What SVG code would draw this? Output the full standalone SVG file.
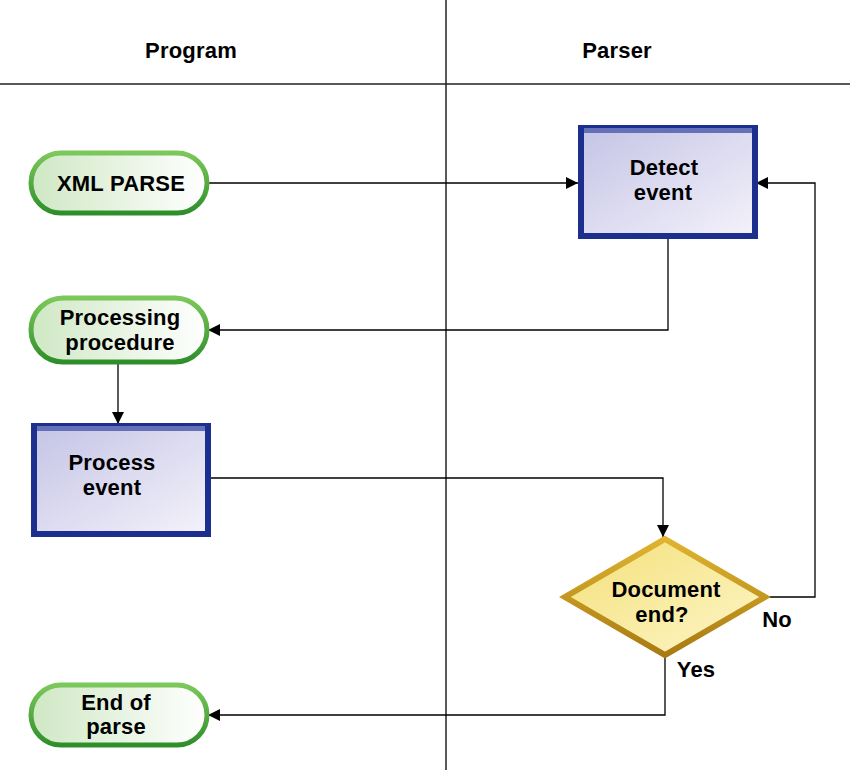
<svg xmlns="http://www.w3.org/2000/svg" width="850" height="770" viewBox="0 0 850 770">
<defs>
<linearGradient id="gPill" x1="0" y1="0" x2="1" y2="0">
<stop offset="0" stop-color="#cfe8c4"/>
<stop offset="1" stop-color="#ffffff"/>
</linearGradient>
<linearGradient id="gPillStroke" x1="0" y1="0" x2="0" y2="1">
<stop offset="0" stop-color="#7cc85a"/>
<stop offset="1" stop-color="#2e8f2a"/>
</linearGradient>
<linearGradient id="gRect" x1="0" y1="0" x2="1" y2="1">
<stop offset="0" stop-color="#c4c4e6"/>
<stop offset="1" stop-color="#f4f2fa"/>
</linearGradient>
<linearGradient id="gDia" x1="0" y1="0" x2="1" y2="1">
<stop offset="0" stop-color="#f4e07a"/>
<stop offset="1" stop-color="#fdf6c8"/>
</linearGradient>
<linearGradient id="gDiaStroke" x1="0" y1="0" x2="0" y2="1">
<stop offset="0" stop-color="#e0b430"/>
<stop offset="1" stop-color="#a87a12"/>
</linearGradient>
<marker id="arr" viewBox="0 0 10 10" refX="10" refY="5" markerWidth="12" markerHeight="12" markerUnits="userSpaceOnUse" orient="auto">
<path d="M0,0 L10,5 L0,10 z" fill="#000"/>
</marker>
</defs>
<style>
.t{font-family:"Liberation Sans",Arial,sans-serif;font-weight:bold;font-size:22px;fill:#000;text-anchor:middle;letter-spacing:0.2px}
.pill{fill:url(#gPill);stroke:url(#gPillStroke);stroke-width:5}
.box{fill:url(#gRect);stroke:#1c2f8e;stroke-width:6}
.bev{fill:none;stroke:#6470b8;stroke-width:5}
.dia{fill:url(#gDia);stroke:url(#gDiaStroke);stroke-width:6;stroke-linejoin:miter}
.c{fill:none;stroke:#000;stroke-width:1.3}
.lane{stroke:#222;stroke-width:1.5}
</style>
<rect width="850" height="770" fill="#fff"/>
<g id="lanes">
<line class="lane" x1="446" y1="0" x2="446" y2="770"/>
<line class="lane" x1="0" y1="84" x2="850" y2="84"/>
<text class="t" x="191" y="58">Program</text>
<text class="t" x="617" y="58">Parser</text>
</g>
<g id="connectors">
<path class="c" d="M208,183 H578" marker-end="url(#arr)"/>
<path class="c" d="M668,238 V330 H208" marker-end="url(#arr)"/>
<path class="c" d="M118,364 V424" marker-end="url(#arr)"/>
<path class="c" d="M208,478 H663 V537" marker-end="url(#arr)"/>
<path class="c" d="M768,597 H815 V183 H756" marker-end="url(#arr)"/>
<path class="c" d="M665,657 V715 H208" marker-end="url(#arr)"/>
<text class="t" x="777" y="627">No</text>
<text class="t" x="696" y="677">Yes</text>
</g>
<g id="xml-parse">
<rect class="pill" x="31" y="153" width="176" height="60" rx="30"/>
<text class="t" x="121" y="191">XML PARSE</text>
</g>
<g id="processing-procedure">
<rect class="pill" x="31" y="298" width="176" height="64" rx="32"/>
<text class="t" x="120" y="325">Processing</text>
<text class="t" x="120" y="350">procedure</text>
</g>
<g id="process-event">
<rect class="box" x="34" y="426" width="174" height="108"/>
<path class="bev" d="M37,428.5 H205"/>
<text class="t" x="112" y="470">Process</text>
<text class="t" x="112" y="495">event</text>
</g>
<g id="detect-event">
<rect class="box" x="581" y="128" width="174" height="108"/>
<path class="bev" d="M584,130.5 H752"/>
<text class="t" x="664" y="175">Detect</text>
<text class="t" x="663" y="200">event</text>
</g>
<g id="document-end">
<polygon class="dia" points="665,539 765,597 665,655 565,597"/>
<text class="t" x="666" y="597">Document</text>
<text class="t" x="662" y="622">end?</text>
</g>
<g id="end-of-parse">
<rect class="pill" x="31" y="685" width="176" height="60" rx="30"/>
<text class="t" x="116" y="710">End of</text>
<text class="t" x="116" y="734">parse</text>
</g>
</svg>
